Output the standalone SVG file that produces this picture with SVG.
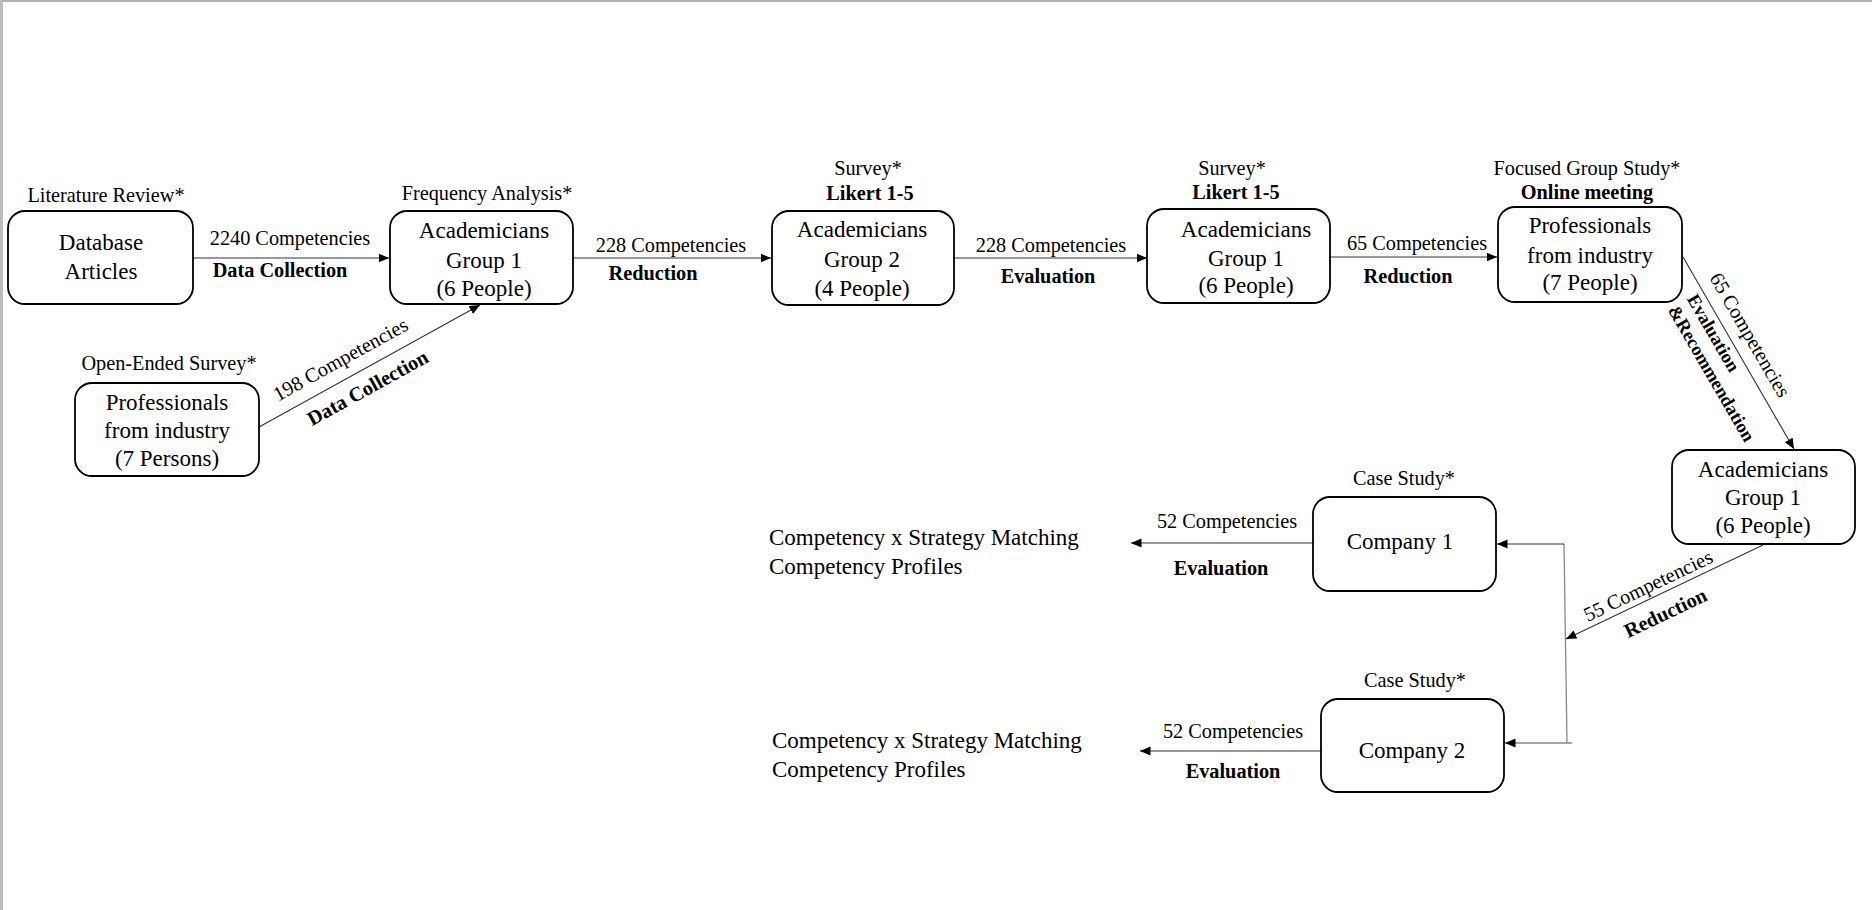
<svg xmlns="http://www.w3.org/2000/svg" width="1872" height="910" viewBox="0 0 1872 910" font-family="'Liberation Serif', 'Times New Roman', serif">
<style>
text{fill:#000}
.n{font-size:23px}
.l{font-size:20.3px}
.b{font-size:20.3px;font-weight:bold}
.bs{font-size:18.5px;font-weight:bold}
.box{fill:#fff;stroke:#000;stroke-width:1.8}
.c{fill:none;stroke:#333;stroke-width:1.1}
.g{fill:none;stroke:#888;stroke-width:1.3}
</style>
<defs>
<marker id="ah" markerUnits="userSpaceOnUse" markerWidth="11" markerHeight="10" refX="10.5" refY="5" orient="auto">
<path d="M0,0.5 L10.5,5 L0,9.5 z" fill="#000"/>
</marker>
</defs>
<rect x="0" y="0" width="1872" height="910" fill="#fff"/>
<rect x="0" y="0" width="1872" height="2" fill="#b4b4b4"/>
<rect x="0" y="0" width="3" height="910" fill="#bcbcbc"/>

<g id="connectors">
<line class="c" x1="193" y1="258" x2="389" y2="258" marker-end="url(#ah)"/>
<line class="c" x1="259" y1="427" x2="480" y2="305" marker-end="url(#ah)"/>
<line class="c" x1="573" y1="258" x2="771" y2="258" marker-end="url(#ah)"/>
<line class="c" x1="954" y1="258" x2="1147" y2="258" marker-end="url(#ah)"/>
<line class="c" x1="1330" y1="257" x2="1497" y2="257" marker-end="url(#ah)"/>
<line class="c" x1="1683" y1="257" x2="1794" y2="449" marker-end="url(#ah)"/>
<line class="c" x1="1763" y1="545" x2="1566" y2="639" marker-end="url(#ah)"/>
<line class="g" x1="1564" y1="544" x2="1567" y2="743"/>
<line class="c" x1="1564" y1="544" x2="1497" y2="544" marker-end="url(#ah)"/>
<line class="g" x1="1572" y1="743" x2="1505" y2="743" marker-end="url(#ah)"/>
<line class="c" x1="1313" y1="543" x2="1131" y2="543" marker-end="url(#ah)"/>
<line class="c" x1="1321" y1="751" x2="1140" y2="751" marker-end="url(#ah)"/>
</g>

<g id="edge-labels" text-anchor="middle">
<text class="l" x="290" y="245">2240 Competencies</text>
<text class="b" x="280" y="277">Data Collection</text>
<g transform="translate(259,427) rotate(-28.9)">
<text class="l" x="104" y="-13">198 Competencies</text>
<text class="b" x="114" y="25">Data Collection</text>
</g>
<text class="l" x="671" y="252">228 Competencies</text>
<text class="b" x="653" y="280">Reduction</text>
<text class="l" x="1051" y="252">228 Competencies</text>
<text class="b" x="1048" y="283">Evaluation</text>
<text class="l" x="1417" y="250">65 Competencies</text>
<text class="b" x="1408" y="283">Reduction</text>
<g transform="translate(1683,257) rotate(59.84)">
<text class="l" x="101" y="-12">65 Competencies</text>
<text class="bs" x="81" y="18">Evaluation</text>
<text class="bs" x="115" y="40">&amp;Recommendation</text>
</g>
<g transform="translate(1566,639) rotate(-25.5)">
<text class="l" x="97" y="-6">55 Competencies</text>
<text class="b" x="101" y="26">Reduction</text>
</g>
<text class="l" x="1227" y="528">52 Competencies</text>
<text class="b" x="1221" y="575">Evaluation</text>
<text class="l" x="1233" y="738">52 Competencies</text>
<text class="b" x="1233" y="778">Evaluation</text>
</g>

<g id="database" text-anchor="middle">
<text class="l" x="106" y="202">Literature Review*</text>
<rect class="box" x="8" y="211" width="185" height="93" rx="17"/>
<text class="n" x="101" y="250">Database</text>
<text class="n" x="101" y="279">Articles</text>
</g>

<g id="open-survey" text-anchor="middle">
<text class="l" x="169" y="370">Open-Ended Survey*</text>
<rect class="box" x="75" y="383" width="184" height="93" rx="17"/>
<text class="n" x="167" y="410">Professionals</text>
<text class="n" x="167" y="438">from industry</text>
<text class="n" x="167" y="466">(7 Persons)</text>
</g>

<g id="acad-g1-a" text-anchor="middle">
<text class="l" x="487" y="200">Frequency Analysis*</text>
<rect class="box" x="390" y="211" width="183" height="93" rx="17"/>
<text class="n" x="484" y="238">Academicians</text>
<text class="n" x="484" y="268">Group 1</text>
<text class="n" x="484" y="296">(6 People)</text>
</g>

<g id="acad-g2" text-anchor="middle">
<text class="l" x="868" y="175">Survey*</text>
<text class="b" x="870" y="200">Likert 1-5</text>
<rect class="box" x="772" y="211" width="182" height="94" rx="17"/>
<text class="n" x="862" y="237">Academicians</text>
<text class="n" x="862" y="267">Group 2</text>
<text class="n" x="862" y="296">(4 People)</text>
</g>

<g id="acad-g1-b" text-anchor="middle">
<text class="l" x="1232" y="175">Survey*</text>
<text class="b" x="1236" y="199">Likert 1-5</text>
<rect class="box" x="1147" y="209" width="183" height="94" rx="17"/>
<text class="n" x="1246" y="237">Academicians</text>
<text class="n" x="1246" y="266">Group 1</text>
<text class="n" x="1246" y="293">(6 People)</text>
</g>

<g id="professionals" text-anchor="middle">
<text class="l" x="1587" y="175">Focused Group Study*</text>
<text class="b" x="1587" y="199">Online meeting</text>
<rect class="box" x="1498" y="207" width="184" height="95" rx="17"/>
<text class="n" x="1590" y="233">Professionals</text>
<text class="n" x="1590" y="263">from industry</text>
<text class="n" x="1590" y="290">(7 People)</text>
</g>

<g id="acad-g1-c" text-anchor="middle">
<rect class="box" x="1672" y="450" width="183" height="94" rx="17"/>
<text class="n" x="1763" y="477">Academicians</text>
<text class="n" x="1763" y="505">Group 1</text>
<text class="n" x="1763" y="533">(6 People)</text>
</g>

<g id="company1" text-anchor="middle">
<text class="l" x="1404" y="485">Case Study*</text>
<rect class="box" x="1313" y="497" width="183" height="94" rx="17"/>
<text class="n" x="1400" y="549">Company 1</text>
</g>

<g id="company2" text-anchor="middle">
<text class="l" x="1415" y="687">Case Study*</text>
<rect class="box" x="1321" y="699" width="183" height="93" rx="17"/>
<text class="n" x="1412" y="758">Company 2</text>
</g>

<g id="result1">
<text class="n" x="769" y="545">Competency x Strategy Matching</text>
<text class="n" x="769" y="574">Competency Profiles</text>
</g>

<g id="result2">
<text class="n" x="772" y="748">Competency x Strategy Matching</text>
<text class="n" x="772" y="777">Competency Profiles</text>
</g>
</svg>
